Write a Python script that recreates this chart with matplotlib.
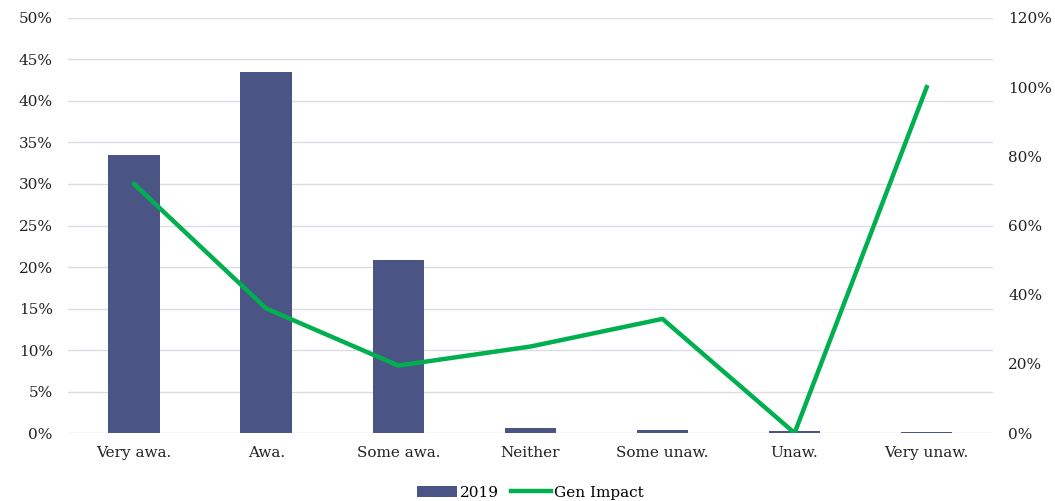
import numpy as np
import matplotlib.pyplot as plt
from matplotlib.ticker import PercentFormatter

# awareness categories and shares
categories = ['Very awa.', 'Awa.', 'Some awa.', 'Neither', 'Some unaw.', 'Unaw.', 'Very unaw.']
share_2019 = [33.5, 43.5, 20.9, 0.6, 0.4, 0.25, 0.1]
gen_impact = [72, 36, 19.5, 25, 33, 0, 100]

bar_color = '#4a5485'
line_color = '#00b04f'
grid_color = '#dcdce6'

plt.rcParams['font.family'] = ['DejaVu Serif']
plt.rcParams['font.size'] = 11

fig = plt.figure(figsize=(10.55, 5.01), dpi=100)
ax = fig.add_axes([0.0645, 0.1357, 0.8765, 0.8284])
x = np.arange(len(categories))

ax.bar(x, share_2019, width=0.39, color=bar_color, label='2019', zorder=2)
ax.set_ylim(0, 50)
ax.set_yticks(np.arange(0, 51, 5))
ax.yaxis.set_major_formatter(PercentFormatter(decimals=0))
ax.set_xlim(-0.5, len(categories) - 0.5)
ax.set_xticks(x)
ax.set_xticklabels(categories)
ax.grid(axis='y', color=grid_color, linewidth=1, zorder=0)
ax.tick_params(axis='y', length=0, pad=11, colors='#222222')
ax.tick_params(axis='x', length=0, pad=9, colors='#222222')
for s in ax.spines.values():
    s.set_visible(False)

ax2 = ax.twinx()
ax2.plot(x, gen_impact, color=line_color, linewidth=3.2, label='Gen Impact', zorder=3)
ax2.set_ylim(0, 120)
ax2.set_yticks(np.arange(0, 121, 20))
ax2.yaxis.set_major_formatter(PercentFormatter(decimals=0))
ax2.tick_params(axis='y', length=0, pad=11, colors='#222222')
for s in ax2.spines.values():
    s.set_visible(False)

h1, l1 = ax.get_legend_handles_labels()
h2, l2 = ax2.get_legend_handles_labels()
fig.legend(h1 + h2, l1 + l2, loc='lower center', bbox_to_anchor=(0.503, -0.025),
           ncol=2, frameon=False, handlelength=2.6, handletextpad=0.2,
           columnspacing=0.8, fontsize=11)

fig.savefig('out.png', dpi=100)
